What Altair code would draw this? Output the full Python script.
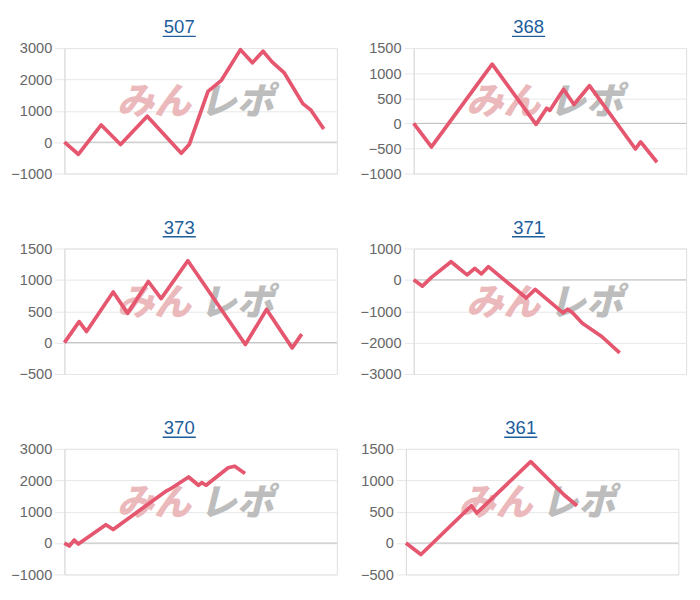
import altair as alt
import pandas as pd

# ---- data ----
titles = ["507", "368", "373", "371", "370", "361"]

x_507 = [0, 5.1, 13.5, 20.6, 30.4, 42.9, 45.8, 52.7, 57.5, 64.6, 69.0, 72.9, 76.2, 80.6, 87.5, 90.5, 95.2]
y_507 = [0, -385, 550, -75, 830, -350, -75, 1620, 1960, 2950, 2530, 2900, 2560, 2220, 1230, 1020, 420]

x_368 = [0, 6.5, 28.8, 44.9, 48.8, 50.0, 55.0, 58.8, 64.5, 81.4, 83.3, 89.3]
y_368 = [0, -470, 1180, -20, 300, 260, 680, 375, 750, -510, -370, -775]

x_373 = [0, 5.4, 8.1, 17.9, 23.2, 30.8, 35.5, 45.3, 66.4, 74.2, 83.6, 87.1]
y_373 = [0, 335, 178, 806, 466, 974, 702, 1304, -31, 529, -84, 136]

x_371 = [0, 3.2, 6.5, 13.7, 19.6, 22.4, 24.8, 27.4, 41.3, 44.6, 54.8, 56.5, 58.3, 61.9, 69.0, 75.6]
y_371 = [0, -200, 80, 577, 157, 367, 189, 420, -577, -304, -1050, -934, -1050, -1385, -1805, -2330]

x_370 = [0, 1.8, 3.6, 5.1, 15.2, 17.9, 20.8, 37.5, 38.7, 45.6, 49.2, 50.4, 52.0, 60.1, 62.5, 66.3]
y_370 = [0, -95, 95, -30, 585, 430, 618, 1665, 1717, 2105, 1843, 1927, 1843, 2398, 2450, 2220]

x_361 = [0, 5.5, 24.0, 26.0, 45.8, 58.1, 62.8]
y_361 = [0, -182, 594, 479, 1297, 766, 594]

y_ranges = [(-1000, 3000, 1000), (-1000, 1500, 500), (-500, 1500, 500),
            (-3000, 1000, 1000), (-1000, 3000, 1000), (-500, 1500, 500)]

series = [(x_507, y_507), (x_368, y_368), (x_373, y_373),
          (x_371, y_371), (x_370, y_370), (x_361, y_361)]

W, H = 280, 129
LINE_COLOR = "#e5566f"
FONT = "Liberation Sans"


def panel(title, xs, ys, yr):
    ymin, ymax, step = yr
    df = pd.DataFrame({"x": xs, "y": ys})
    xsc = alt.Scale(domain=[0, 100], nice=False, zero=False)
    ysc = alt.Scale(domain=[ymin, ymax], nice=False, zero=False)

    def yaxis():
        return alt.Axis(values=list(range(ymin, ymax + 1, step)), title=None, grid=True,
                        gridColor="#e6e6e6", domainColor="#dcdcdc", tickColor="#e6e6e6",
                        tickSize=10, labelPadding=3, labelFont=FONT, labelFontSize=15,
                        labelColor="#666666", format="d", labelOverlap=False,
                        labelBound=False, labelFlush=False)

    wm1 = alt.Chart(pd.DataFrame({"t": ["みん"]})).mark_text(
        font="Noto Sans CJK JP", fontSize=38, fontWeight=900, fontStyle="italic",
        color="#ebb9bc", align="center", baseline="middle"
    ).encode(text="t:N", x=alt.value(92), y=alt.value(57))
    wm2 = alt.Chart(pd.DataFrame({"t": ["レポ"]})).mark_text(
        font="Noto Sans CJK JP", fontSize=38, fontWeight=900, fontStyle="italic",
        color="#bdbdbd", align="center", baseline="middle"
    ).encode(text="t:N", x=alt.value(177), y=alt.value(57))

    zero = alt.Chart(pd.DataFrame({"y": [0]})).mark_rule(color="#bdbdbd", strokeWidth=1).encode(
        y=alt.Y("y:Q", scale=ysc, axis=yaxis()))

    line = alt.Chart(df).mark_line(color=LINE_COLOR, strokeWidth=3.8, strokeJoin="round").encode(
        x=alt.X("x:Q", scale=xsc, axis=None),
        y=alt.Y("y:Q", scale=ysc, axis=yaxis()),
    )

    ttl = alt.Chart(pd.DataFrame({"t": [title]})).mark_text(
        font=FONT, fontSize=19, color="#1c5d9b", align="center", baseline="alphabetic"
    ).encode(text="t:N", x=alt.value(118), y=alt.value(-15))
    uline = alt.Chart(pd.DataFrame({"t": [title]})).mark_rule(color="#1c5d9b", strokeWidth=1.5).encode(
        x=alt.value(101), x2=alt.value(135), y=alt.value(-12))

    return alt.layer(zero, wm1, wm2, line, ttl, uline).properties(width=W, height=H)


panels = [panel(t, s[0], s[1], yr) for t, s, yr in zip(titles, series, y_ranges)]

rows = [alt.hconcat(panels[i], panels[i + 1], spacing=22) for i in range(0, 6, 2)]
chart = (
    alt.vconcat(*rows, spacing=37)
    .properties(padding={"top": 2, "left": 2, "right": 5, "bottom": 5})
    .configure_view(stroke="transparent")
    .configure_axis(labelOverlap=False)
    .configure(background="white")
)

chart.save("out.html", embed_options={"renderer": "svg", "actions": False})
